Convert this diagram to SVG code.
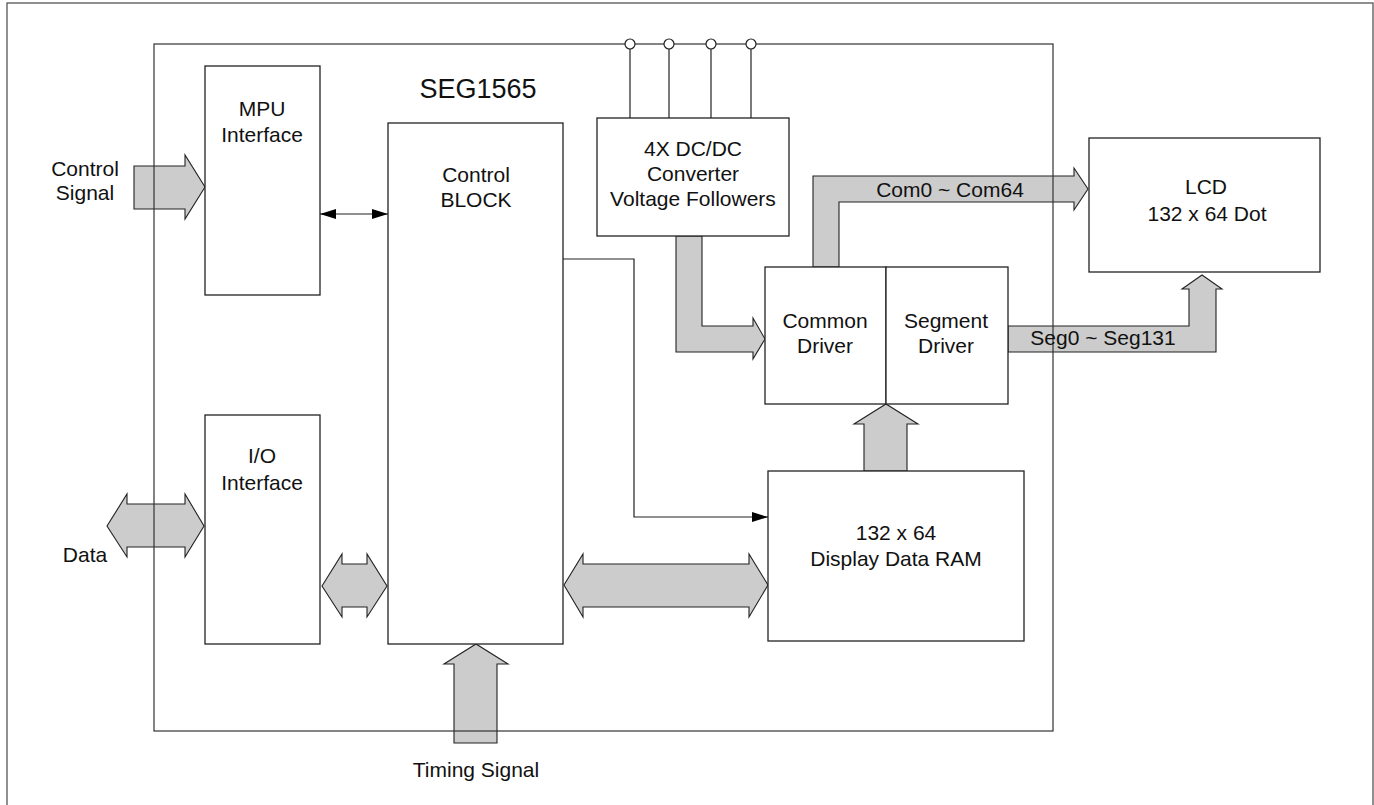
<svg xmlns="http://www.w3.org/2000/svg" width="1374" height="805" viewBox="0 0 1374 805">
<defs>
<style>
.box{fill:#fff;stroke:#222;stroke-width:1.3}
.frame{fill:none;stroke:#555;stroke-width:1.3}
.chip{fill:none;stroke:#333;stroke-width:1.2}
.big{fill:#cccccc;stroke:#222;stroke-width:1.1;stroke-linejoin:miter}
.thin{fill:none;stroke:#222;stroke-width:1.2}
.pin{fill:#fff;stroke:#222;stroke-width:1.2}
text{font-family:"Liberation Sans",Arial,sans-serif;font-size:21px;fill:#111;text-anchor:middle}
.title{font-size:27px}
</style>
<marker id="ah" viewBox="0 0 16 10" refX="16" refY="5" markerWidth="16" markerHeight="10" markerUnits="userSpaceOnUse" orient="auto-start-reverse">
<path d="M0,0 L16,5 L0,10 Z" fill="#000"/>
</marker>
</defs>
<rect width="1374" height="805" fill="#fff"/>
<rect class="frame" x="7" y="3" width="1366" height="810"/>

<g id="connectors">
<path class="big" d="M134,166 H185 V155 L205,187 L185,219 V209 H134 Z"/>
<path class="big" d="M107,526 L127,494 V504 H185 V494 L204,526 L185,557 V547 H127 V557 Z"/>
<path class="big" d="M322,586 L342,554 V564 H367 V554 L387,586 L367,617 V607 H342 V617 Z"/>
<path class="big" d="M564,585 L583,554 V564 H749 V554 L768,585 L749,617 V607 H583 V617 Z"/>
<path class="big" d="M454,743 V664 H444 L476,644 L508,664 H497 V743 Z"/>
<path class="big" d="M864,471 V424 H854 L886,404 L918,424 H907 V471 Z"/>
<path class="big" d="M676,236 V352 H753 V359 L765,339 L753,318 V326 H702 V236 Z"/>
<path class="big" d="M813,267 V176 H1074 V168 L1088,189 L1074,210 V202 H839 V267 Z"/>
<path class="big" d="M1008,326 H1189 V289 H1182 L1202,275 L1222,289 H1216 V352 H1008 Z"/>
<line class="thin" x1="320" y1="214" x2="388" y2="214" marker-start="url(#ah)" marker-end="url(#ah)"/>
<polyline class="thin" points="563,259 634,259 634,517 768,517" marker-end="url(#ah)"/>
<line class="thin" x1="630" y1="44" x2="630" y2="118"/>
<line class="thin" x1="669" y1="44" x2="669" y2="118"/>
<line class="thin" x1="711" y1="44" x2="711" y2="118"/>
<line class="thin" x1="751" y1="44" x2="751" y2="118"/>
</g>

<g id="chip">
<rect class="chip" x="154" y="44" width="899" height="687"/>
<text class="title" x="478" y="98">SEG1565</text>
</g>

<g id="pins">
<circle class="pin" cx="630" cy="44" r="5"/>
<circle class="pin" cx="669" cy="44" r="5"/>
<circle class="pin" cx="711" cy="44" r="5"/>
<circle class="pin" cx="751" cy="44" r="5"/>
</g>

<g id="mpu">
<rect class="box" x="205" y="66" width="115" height="229"/>
<text x="262" y="116">MPU</text>
<text x="262" y="142">Interface</text>
</g>

<g id="io">
<rect class="box" x="205" y="415" width="115" height="229"/>
<text x="262" y="463">I/O</text>
<text x="262" y="490">Interface</text>
</g>

<g id="control">
<rect class="box" x="388" y="123" width="175" height="521"/>
<text x="476" y="182">Control</text>
<text x="476" y="207">BLOCK</text>
</g>

<g id="converter">
<rect class="box" x="597" y="118" width="192" height="118"/>
<text x="693" y="156">4X DC/DC</text>
<text x="693" y="181">Converter</text>
<text x="693" y="206">Voltage Followers</text>
</g>

<g id="common-driver">
<rect class="box" x="765" y="267" width="121" height="137"/>
<text x="825" y="328">Common</text>
<text x="825" y="353">Driver</text>
</g>

<g id="segment-driver">
<rect class="box" x="886" y="267" width="122" height="137"/>
<text x="946" y="328">Segment</text>
<text x="946" y="353">Driver</text>
</g>

<g id="ram">
<rect class="box" x="768" y="471" width="256" height="170"/>
<text x="896" y="540">132 x 64</text>
<text x="896" y="566">Display Data RAM</text>
</g>

<g id="lcd">
<rect class="box" x="1089" y="138" width="231" height="134"/>
<text x="1206" y="194">LCD</text>
<text x="1207" y="221">132 x 64 Dot</text>
</g>

<g id="labels">
<text x="85" y="176">Control</text>
<text x="85" y="200">Signal</text>
<text x="85" y="562">Data</text>
<text x="476" y="777">Timing Signal</text>
<text x="950" y="197">Com0 ~ Com64</text>
<text x="1103" y="345">Seg0 ~ Seg131</text>
</g>
</svg>
